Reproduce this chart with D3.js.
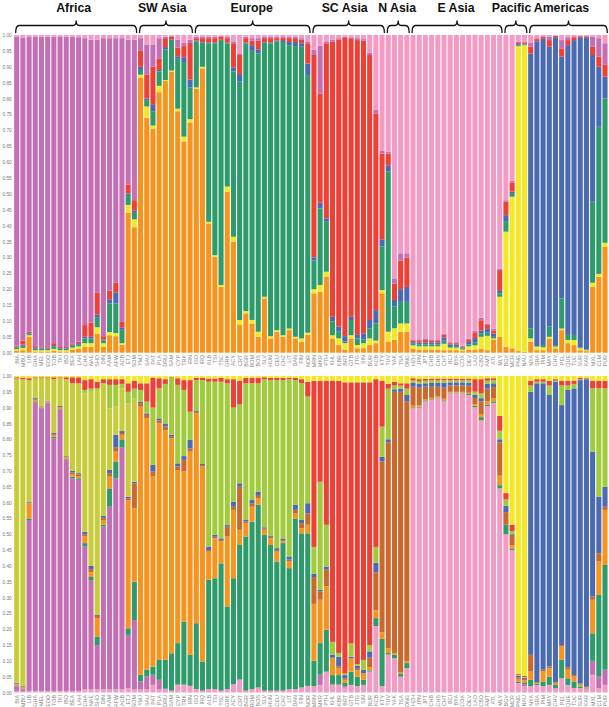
<!DOCTYPE html>
<html><head><meta charset="utf-8">
<script src="https://cdn.jsdelivr.net/npm/d3@7"></script>
<style>body{margin:0;background:#fff}svg{display:block}</style>
</head><body><svg id="c" width="609" height="707"></svg>
<script>
// ---------------- DATA ----------------
const pops = ["BIA","MBU","LIB","GHA","MEL","EDO","TOB","TKI","IBO","BEA","LAH","CHA","NAE","SHO","DIN","AAM","AFW","ACB","ETJ","SOM",
 "YMJ","SAU","PAT","PLA","DRU","SAM","CYP","TRK","IRN",
 "ISO","IRQ","ALB","TSI","TSC","GRK","ACY","CRT","BGR","ROM","BOS","SLV","HUN","CEU","CHZ","LIT","DAN","FIN","NOR",
 "MRN","MKR","PTH","KHL","KBR","BRT","GTB","JTG","SIN","BUR","KCB","KTY",
 "TUV","YAK","TSA","ONG",
 "HZH","JPN","JPT","CHB","CHS","CHT","BCI","BYA","COX","DEV","LAO","CBO","AMT","ATL","MLY",
 "BGV","MCR","PNG","NAU",
 "NYA","SRA","PIM","MAY","CHV","PEL","QUE","TUC","SUR","KAR","MXL","CLM","PUR"];

const groupNames = ["Africa","SW Asia","Europe","SC Asia","N Asia","E Asia","Pacific","Americas"];
const groupFirst = [0,20,29,48,60,64,79,83];
const groupLast  = [19,28,47,59,63,78,82,95];

// Top panel (K=7): bottom -> top
const topOrange = [.006,.008,.050,.004,.004,.004,.006,.004,.004,.010,.012,.018,.018,.060,.018,.055,.052,.025,.440,.395,
 .865,.740,.705,.820,.855,.885,.760,.665,.725,
 .830,.895,.407,.302,.208,.507,.350,.087,.124,.092,.050,.171,.045,.066,.050,.071,.045,.035,.056,
 .187,.192,.239,.045,.024,.010,.045,.014,.014,.024,.030,.187,
 .035,.040,.066,.066,
 .013,.010,.010,.010,.010,.008,.008,.008,.005,.010,.010,.013,.008,.040,.050,
 .019,.014,.005,.003,
 .035,.008,.008,.045,.014,.071,.030,.024,.008,.005,.208,.239,.334];
const topYellow = [.005,.007,.005,.004,.004,.004,.006,.004,.004,.006,.008,.012,.012,.020,.012,.010,.010,.005,.025,.025,
 .010,.035,.010,.020,.003,.003,.008,.015,.010,
 .005,.005,.005,.005,.005,.016,.015,.016,.007,.011,.016,.005,.007,.005,.005,.005,.005,.010,.007,
 .013,.021,.016,.010,.021,.020,.010,.010,.016,.021,.008,.010,
 .031,.037,.026,.026,
 .010,.010,.010,.010,.010,.020,.008,.008,.005,.010,.013,.037,.045,.005,.126,
 .362,.477,.960,.965,
 .010,.011,.009,.005,.005,.005,.010,.016,.006,.003,.012,.009,.012];
const topGreen = [.005,.007,.005,.005,.005,.004,.008,.005,.005,.006,.007,.015,.015,.030,.008,.090,.093,.042,.035,.020,
 .015,.020,.045,.045,.097,.097,.157,.235,.100,
 .145,.075,.562,.667,.771,.451,.520,.750,.843,.847,.876,.800,.922,.909,.923,.892,.915,.918,.811,
 .090,.241,.157,.043,.021,.005,.048,.021,.012,.032,.054,.137,
 .504,.068,.068,.068,
 .005,.006,.006,.006,.006,.010,.005,.005,.004,.006,.010,.010,.010,.005,.011,
 .031,.009,.003,.002,
 .032,.001,.007,.032,.005,.095,.016,.016,.002,.002,.255,.463,.454];
const topBlue = [.003,.004,.002,.002,.002,.002,.004,.002,.002,.003,.003,.005,.005,.010,.004,.013,.035,.008,.002,.008,
 .010,.005,.020,.005,.007,.002,.008,.015,.025,
 .003,.002,.003,.003,.001,.002,.013,.024,.002,.018,.013,.002,.002,.002,.006,.010,.013,.011,.036,
 .010,.018,.011,.015,.016,.017,.010,.011,.019,.026,.042,.023,
 .020,.021,.040,.047,
 .005,.006,.006,.006,.006,.010,.005,.005,.003,.008,.013,.010,.012,.010,.010,
 .021,.007,.003,.002,
 .865,.960,.964,.881,.969,.761,.912,.928,.977,.983,.462,.189,.069];
const topRed = [.004,.012,.004,.003,.002,.003,.006,.003,.003,.003,.005,.037,.045,.070,.010,.027,.030,.017,.028,.032,
 .050,.075,.120,.035,.028,.008,.027,.035,.115,
 .007,.013,.013,.013,.010,.014,.076,.060,.014,.014,.027,.012,.014,.008,.008,.012,.012,.011,.064,
 .637,.344,.551,.866,.904,.941,.877,.928,.921,.834,.619,.270,
 .037,.052,.090,.092,
 .004,.005,.008,.005,.005,.008,.004,.004,.003,.006,.018,.032,.012,.010,.063,
 .042,.028,.004,.004,
 .021,.007,.006,.021,.004,.026,.016,.009,.003,.003,.026,.032,.037];
const topPurple = [.972,.954,.929,.977,.978,.978,.965,.977,.977,.967,.958,.903,.890,.795,.938,.795,.770,.893,.455,.505,
 .040,.095,.070,.065,.005,.003,.025,.010,.010,
 .005,.005,.005,.005,.003,.005,.006,.005,.005,.008,.008,.005,.005,.005,.004,.005,.005,.005,.006,
 .016,.150,.006,.006,.004,.002,.003,.006,.005,.008,.011,.008,
 .006,.016,.023,.014,
 .003,.003,.003,.003,.003,.004,.003,.003,.002,.004,.005,.008,.005,.005,.005,
 .005,.006,.004,.004,
 .012,.003,.002,.010,.001,.026,.009,.003,.002,.002,.032,.058,.068];
const topPink = [.005,.008,.005,.005,.005,.005,.005,.005,.005,.005,.007,.010,.015,.015,.010,.010,.010,.010,.015,.015,
 .010,.030,.030,.010,.005,.002,.015,.025,.015,
 .005,.005,.005,.005,.002,.005,.020,.058,.005,.010,.010,.005,.005,.005,.004,.005,.005,.010,.020,
 .047,.034,.020,.015,.010,.005,.007,.010,.013,.055,.236,.365,
 .367,.766,.687,.687,
 .960,.960,.957,.960,.960,.940,.967,.967,.978,.956,.931,.890,.908,.925,.735,
 .520,.459,.021,.020,
 .025,.010,.004,.006,.002,.016,.007,.004,.002,.002,.005,.010,.026];

// Bottom panel (K=10): bottom -> top
const botPink = [.005,.003,.005,.005,.005,.005,.005,.005,.005,.005,.005,.010,.010,.010,.010,.010,.010,.010,.014,.010,
 .010,.010,.024,.010,.010,.005,.024,.024,.020,
 .010,.005,.010,.010,.005,.010,.025,.040,.005,.010,.015,.005,.005,.005,.005,.010,.010,.015,.020,
 .020,.024,.066,.025,.025,.015,.024,.020,.024,.066,.210,.020,
 .120,.108,.050,.077,
 .898,.900,.920,.925,.930,.920,.945,.945,.945,.940,.910,.860,.905,.915,.645,
 .500,.450,.030,.020,
 .020,.024,.020,.024,.014,.045,.024,.014,.014,.010,.056,.014,.024];
const botPurple = [.015,.007,.540,.912,.893,.909,.798,.888,.730,.672,.667,.451,.345,.140,.514,.577,.667,.764,.168,.219,
 .025,.040,.032,.030,.002,.001,.001,.001,.001,
 .001,.001,.001,.001,.001,.001,.001,.001,.001,.001,.001,.001,.001,.001,.001,.001,.001,.001,.001,
 0,.032,0,0,0,.005,0,0,0,0,0,0,
 0,0,0,0,
 0,0,0,0,0,0,0,0,0,0,0,0,0,0,0,
 0,0,0,.005,
 0,0,0,0,0,0,0,0,0,0,.044,.036,.048];
const botGreen = [.002,.002,.005,.003,.002,.002,.005,.002,.002,.005,.005,.011,.010,.027,.006,.058,.053,.026,.021,.121,
 .021,.022,.026,.063,.091,.118,.131,.199,.098,
 .208,.092,.345,.350,.402,.261,.335,.425,.487,.529,.577,.492,.460,.408,.466,.382,.539,.487,.482,
 .080,.100,.132,.030,.030,.010,.042,.030,.016,.004,.025,.150,
 .005,.012,.010,.016,
 .003,.003,.003,.002,.002,.003,.002,.002,.002,.003,.005,.010,.005,.005,.010,
 .030,.005,.005,.005,
 .020,.003,.015,.026,.010,.058,.021,.021,.005,.003,.087,.258,.331];
const botOrange = [.004,.004,.048,.004,.003,.003,.006,.005,.006,.008,.007,.021,.015,.058,.015,.037,.031,.014,.405,.232,
 .847,.794,.600,.747,.726,.679,.547,.474,.642,
 .663,.616,.089,.126,.069,.221,.216,.048,.042,.047,.021,.016,.021,.031,.005,.021,.015,.016,.027,
 .180,.137,.137,.055,.022,.010,.042,.020,.021,.010,.025,.020,
 .015,.005,.005,.005,
 .005,.005,.004,.004,.004,.005,.003,.003,.003,.004,.005,.010,.010,.010,.030,
 0,.010,.008,.008,
 .026,.003,.031,.027,.006,.042,.027,.015,.006,.003,.106,.106,.174];
const botBrown = [.002,.002,.002,.002,.002,.001,.003,.002,.002,.005,.005,.007,.010,.007,.007,.011,.014,.006,.006,.079,
 .011,.011,.016,.010,.011,.005,.011,.037,.010,
 .004,.005,.005,.005,.005,.031,.010,.136,.005,.011,.010,.004,.005,.005,.003,.006,.012,.016,.036,
 .085,.026,.053,0,.005,.005,0,.005,0,.030,.120,.540,
 .650,.825,.885,.821,
 .060,.055,.040,.035,.030,.035,.020,.020,.020,.022,.020,.040,.040,.035,.105,
 .040,.030,.005,.005,
 .053,.002,.006,.005,.002,.005,.008,.005,.003,.002,.010,.026,.010];
const botBlue = [.003,.002,.003,.004,.001,.002,.003,.003,.002,.005,.004,.008,.010,.003,.006,.010,.039,.006,.005,.005,
 .005,.005,.021,.006,.010,.006,.010,.012,.027,
 .003,.003,.011,.006,.005,.005,.016,.011,.005,.010,.011,.004,.004,.006,.005,.010,.016,.010,.032,
 .010,.005,.010,.010,.031,.010,.005,.010,.011,.020,.030,.015,
 .010,.008,.010,.021,
 .012,.012,.010,.012,.012,.015,.010,.010,.010,.010,.010,.010,.015,.012,.010,
 .020,.005,.005,.004,
 .831,.945,.905,.858,.950,.758,.876,.906,.959,.972,.458,.179,.063];
const botOlive = [.961,.970,.384,.063,.087,.071,.170,.088,.243,.277,.284,.437,.550,.711,.419,.195,.089,.135,.295,.264,
 0,0,0,0,0,0,0,0,0,
 0,0,0,0,0,0,0,0,0,0,0,0,0,0,0,0,0,0,0,
 0,0,0,0,0,0,0,0,0,0,0,0,
 0,0,0,0,
 0,0,0,0,0,0,0,0,0,0,0,0,0,0,0,
 0,0,0,0,
 0,0,0,0,0,0,0,0,0,0,0,0,0];
const botLgreen = [0,0,0,0,0,0,0,0,0,0,0,.011,.010,.006,0,.074,.069,.014,.036,.030,
 .037,.037,.181,.095,.125,.179,.248,.209,.089,
 .098,.265,.521,.484,.495,.448,.297,.249,.432,.369,.342,.468,.491,.531,.502,.560,.394,.432,.337,
 .085,.342,.132,.040,.012,.005,.042,.005,.031,.020,.050,.095,
 .160,.012,.010,.020,
 .008,.008,.008,.008,.008,.008,.006,.006,.006,.008,.010,.015,.010,.010,.027,
 .020,.010,.002,.002,
 .020,.005,.005,.030,.003,.062,.014,.014,.003,.002,.200,.342,.311];
const botRed = [.004,.005,.006,.003,.003,.003,.006,.003,.006,.019,.019,.031,.030,.020,.013,.018,.018,.015,.027,.025,
 .021,.058,.095,.032,.015,.003,.021,.031,.100,
 .007,.007,.010,.010,.012,.013,.090,.075,.017,.017,.017,.006,.007,.007,.007,.004,.007,.013,.047,
 .525,.319,.455,.825,.860,.920,.825,.890,.877,.830,.530,.145,
 .015,.012,.007,.017,
 .007,.007,.006,.006,.006,.006,.006,.006,.006,.005,.040,.045,.008,.006,.047,
 .020,.020,.003,.003,
 .015,.008,.008,.015,.005,.015,.015,.010,.005,.003,.024,.024,.024];
const botYellow = [.004,.005,.007,.004,.004,.004,.004,.004,.004,.004,.004,.013,.010,.018,.010,.010,.010,.010,.023,.015,
 .023,.023,.005,.007,.010,.004,.007,.013,.013,
 .006,.006,.008,.008,.006,.010,.010,.015,.006,.006,.006,.004,.006,.006,.006,.006,.006,.010,.018,
 .015,.015,.015,.015,.015,.020,.020,.020,.020,.020,.010,.015,
 .025,.018,.023,.023,
 .007,.010,.009,.008,.008,.008,.008,.008,.008,.008,.010,.010,.007,.007,.126,
 .370,.470,.942,.948,
 .015,.010,.010,.015,.010,.015,.015,.015,.005,.005,.015,.015,.015];

const yTicks = [0,.05,.10,.15,.20,.25,.30,.35,.40,.45,.50,.55,.60,.65,.70,.75,.80,.85,.90,.95,1.00];

// ---------------- STYLE ----------------
const C = {orange:"#F7941E", yellow:"#F2E823", green:"#2E9C6A", blue:"#4A6AB2", red:"#EE4035",
           purple:"#C46EB4", pink:"#F39BC5", brown:"#C9692D", olive:"#C7CC3B", lgreen:"#A1CB3C"};

const topSeries = [["orange",topOrange],["yellow",topYellow],["green",topGreen],["blue",topBlue],
                   ["red",topRed],["purple",topPurple],["pink",topPink]];
const botSeries = [["pink",botPink],["purple",botPurple],["green",botGreen],["orange",botOrange],["brown",botBrown],
                   ["blue",botBlue],["olive",botOlive],["lgreen",botLgreen],["red",botRed],["yellow",botYellow]];

const svg = d3.select("#c");
const x = d3.scaleBand().domain(pops).range([13.6, 608.1]).paddingInner(0.18).paddingOuter(0.09);

function drawPanel(series, yTop, yBot, labelY) {
  const keys = series.map(s => s[0]);
  const rows = pops.map((p, i) => { const o = {pop: p}; series.forEach(([k, arr]) => o[k] = arr[i]); return o; });
  const stacked = d3.stack().keys(keys).offset(d3.stackOffsetExpand)(rows);
  const y = d3.scaleLinear().domain([0, 1]).range([yBot, yTop]);
  const g = svg.append("g");
  g.selectAll("g.layer").data(stacked).join("g").attr("class", "layer")
    .attr("fill", d => C[d.key])
    .selectAll("rect").data(d => d).join("rect")
    .attr("x", d => x(d.data.pop))
    .attr("width", x.bandwidth())
    .attr("y", d => y(d[1]))
    .attr("height", d => Math.max(0, y(d[0]) - y(d[1])));
  // y axis
  const ya = d3.axisLeft(y).tickValues(yTicks).tickFormat(d3.format(".2f")).tickSize(0).tickPadding(0);
  const yg = svg.append("g").attr("transform", "translate(11.8,0)").call(ya);
  yg.select(".domain").remove();
  yg.selectAll("text").attr("font-size", 4.8).attr("fill", "#777").attr("font-family", "Liberation Sans, Arial, sans-serif");
  // x labels
  const xa = d3.axisBottom(x).tickSize(0).tickPadding(0);
  const xg = svg.append("g").attr("transform", `translate(0,${labelY})`).call(xa);
  xg.select(".domain").remove();
  xg.selectAll("text").attr("font-size", 5.4).attr("fill", "#888")
    .attr("font-family", "Liberation Sans, Arial, sans-serif")
    .attr("transform", "rotate(-90)").attr("text-anchor", "end")
    .attr("x", 0).attr("y", 0).attr("dx", 0).attr("dy", "0.35em");
}

drawPanel(topSeries, 35, 352.7, 355);
drawPanel(botSeries, 376, 692.5, 695);

// group brackets
const textDx = [-2.5, -3.7, -1, -4, -1, -1, -4.3, -7];
const bg = svg.append("g");
groupNames.forEach((name, i) => {
  const x0 = x(pops[groupFirst[i]]) + 1.5;
  const x1 = x(pops[groupLast[i]]) + x.bandwidth() - 0.2;
  const xm = (x0 + x1) / 2;
  const yl = 25.5;
  const path = `M${x0},33 Q${x0},${yl} ${x0+3.5},${yl} L${xm-3},${yl} Q${xm},${yl} ${xm},20.5 Q${xm},${yl} ${xm+3},${yl} L${x1-3.5},${yl} Q${x1},${yl} ${x1},33`;
  bg.append("path").attr("d", path).attr("fill", "none").attr("stroke", "#111").attr("stroke-width", 1.3);
  bg.append("text").attr("x", xm + textDx[i]).attr("y", 12.2).attr("text-anchor", "middle")
    .attr("font-family", "Liberation Sans, Arial, sans-serif").attr("font-weight", "bold")
    .attr("font-size", 12.3).attr("fill", "#111").text(name);
});
</script></body></html>
